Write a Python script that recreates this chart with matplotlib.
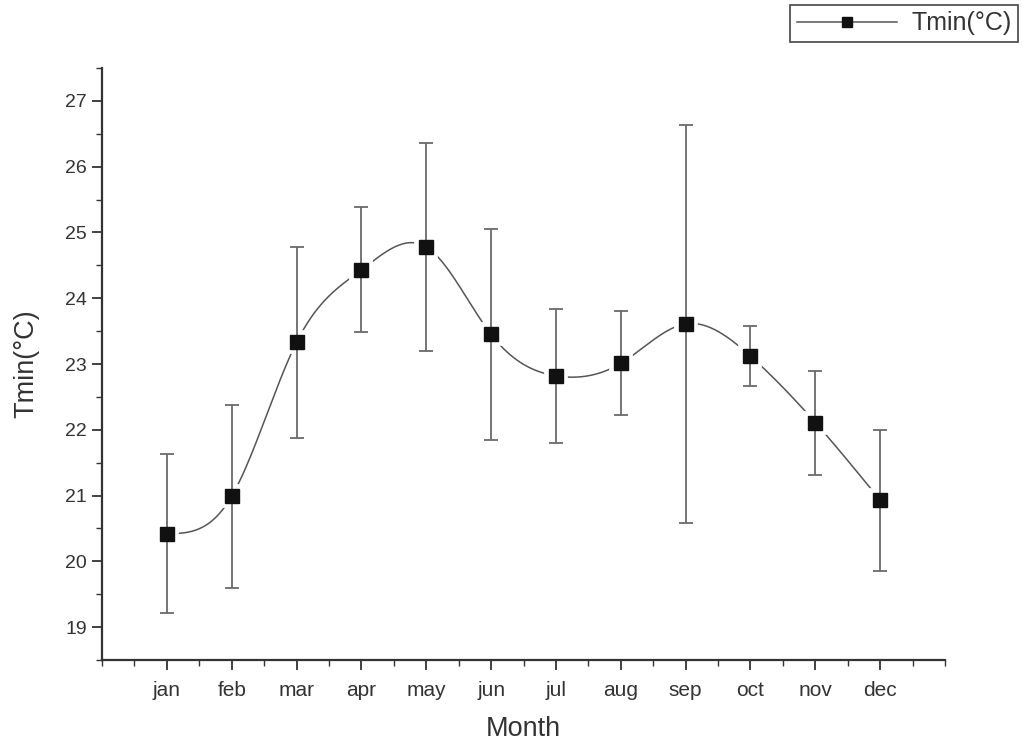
import numpy as np
import matplotlib
matplotlib.use("Agg")
import matplotlib.pyplot as plt
from matplotlib.ticker import MultipleLocator, FixedLocator, NullFormatter
from matplotlib.lines import Line2D

months = ['jan', 'feb', 'mar', 'apr', 'may', 'jun', 'jul', 'aug', 'sep', 'oct', 'nov', 'dec']
tmin = [20.42, 20.99, 23.33, 24.43, 24.78, 23.45, 22.82, 23.01, 23.61, 23.12, 22.11, 20.93]
tmin_err = [1.21, 1.39, 1.45, 0.95, 1.58, 1.61, 1.02, 0.79, 3.02, 0.46, 0.79, 1.07]

plt.rcParams['font.family'] = ['Liberation Sans', 'DejaVu Sans']

x = np.arange(1, len(months) + 1, dtype=float)
y = np.array(tmin)


def natural_spline(xk, yk, xs):
    n = len(xk)
    h = np.diff(xk)
    A = np.zeros((n, n))
    b = np.zeros(n)
    A[0, 0] = 1
    A[-1, -1] = 1
    for i in range(1, n - 1):
        A[i, i - 1] = h[i - 1]
        A[i, i] = 2 * (h[i - 1] + h[i])
        A[i, i + 1] = h[i]
        b[i] = 3 * ((yk[i + 1] - yk[i]) / h[i] - (yk[i] - yk[i - 1]) / h[i - 1])
    c = np.linalg.solve(A, b)
    out = np.empty_like(xs)
    for j, xv in enumerate(xs):
        i = min(max(np.searchsorted(xk, xv) - 1, 0), n - 2)
        dx = xv - xk[i]
        bi = (yk[i + 1] - yk[i]) / h[i] - h[i] * (2 * c[i] + c[i + 1]) / 3
        di = (c[i + 1] - c[i]) / (3 * h[i])
        out[j] = yk[i] + bi * dx + c[i] * dx ** 2 + di * dx ** 3
    return out


xs = np.linspace(x[0], x[-1], 600)
ys = natural_spline(x, y, xs)

fig = plt.figure(figsize=(10.23, 7.45), dpi=100)
ax = fig.add_axes([0.0997, 0.1141, 0.8241, 0.7946])

ax.plot(xs, ys, color='#555555', lw=1.1, zorder=1)
ax.plot(x, y, 's', ms=9.5, mfc='white', mec='white', mew=7, zorder=2)
ax.errorbar(x, y, yerr=tmin_err, fmt='none', ecolor='#6a6a6a', elinewidth=1.3,
            capsize=5, capthick=1.3, zorder=3)
ax.plot(x, y, 's', ms=9.5, color='#111111', zorder=4)

ax.set_xlim(0, 13)
ax.set_ylim(18.5, 27.5)
ax.xaxis.set_major_locator(FixedLocator(list(x)))
ax.set_xticklabels(months)
ax.xaxis.set_minor_locator(MultipleLocator(0.5))
ax.yaxis.set_major_locator(MultipleLocator(1))
ax.yaxis.set_minor_locator(MultipleLocator(0.5))
ax.yaxis.set_minor_formatter(NullFormatter())

for side in ['top', 'right']:
    ax.spines[side].set_visible(False)
for side in ['left', 'bottom']:
    ax.spines[side].set_linewidth(1.6)
    ax.spines[side].set_color('#333333')

ax.tick_params(axis='both', which='major', direction='out', length=7, width=1.3,
               colors='#333333', labelcolor='#333333')
ax.tick_params(axis='y', which='major', labelsize=14, pad=4)
ax.tick_params(axis='x', which='major', labelsize=15, pad=8)
ax.tick_params(axis='both', which='minor', direction='out', length=4, width=1.0,
               colors='#333333')

ax.set_xlabel('Month', fontsize=19.5, color='#333333', labelpad=12)
ax.set_ylabel('Tmin(°C)', fontsize=19.5, color='#333333', labelpad=18)

handle = Line2D([], [], color='#555555', lw=1.1, marker='s', ms=7,
                mfc='#111111', mec='#111111')
leg = fig.legend([handle], ['Tmin(°C)'], loc='upper right',
                 bbox_to_anchor=(1018 / 1023, 1 - 5 / 745), fontsize=18,
                 fancybox=False, edgecolor='#444444', framealpha=1,
                 handlelength=4.0, borderpad=0.25, handletextpad=0.6,
                 borderaxespad=0)
leg.get_frame().set_linewidth(1.2)
for t in leg.get_texts():
    t.set_color('#333333')

fig.savefig('out.png', dpi=100, facecolor='white')
